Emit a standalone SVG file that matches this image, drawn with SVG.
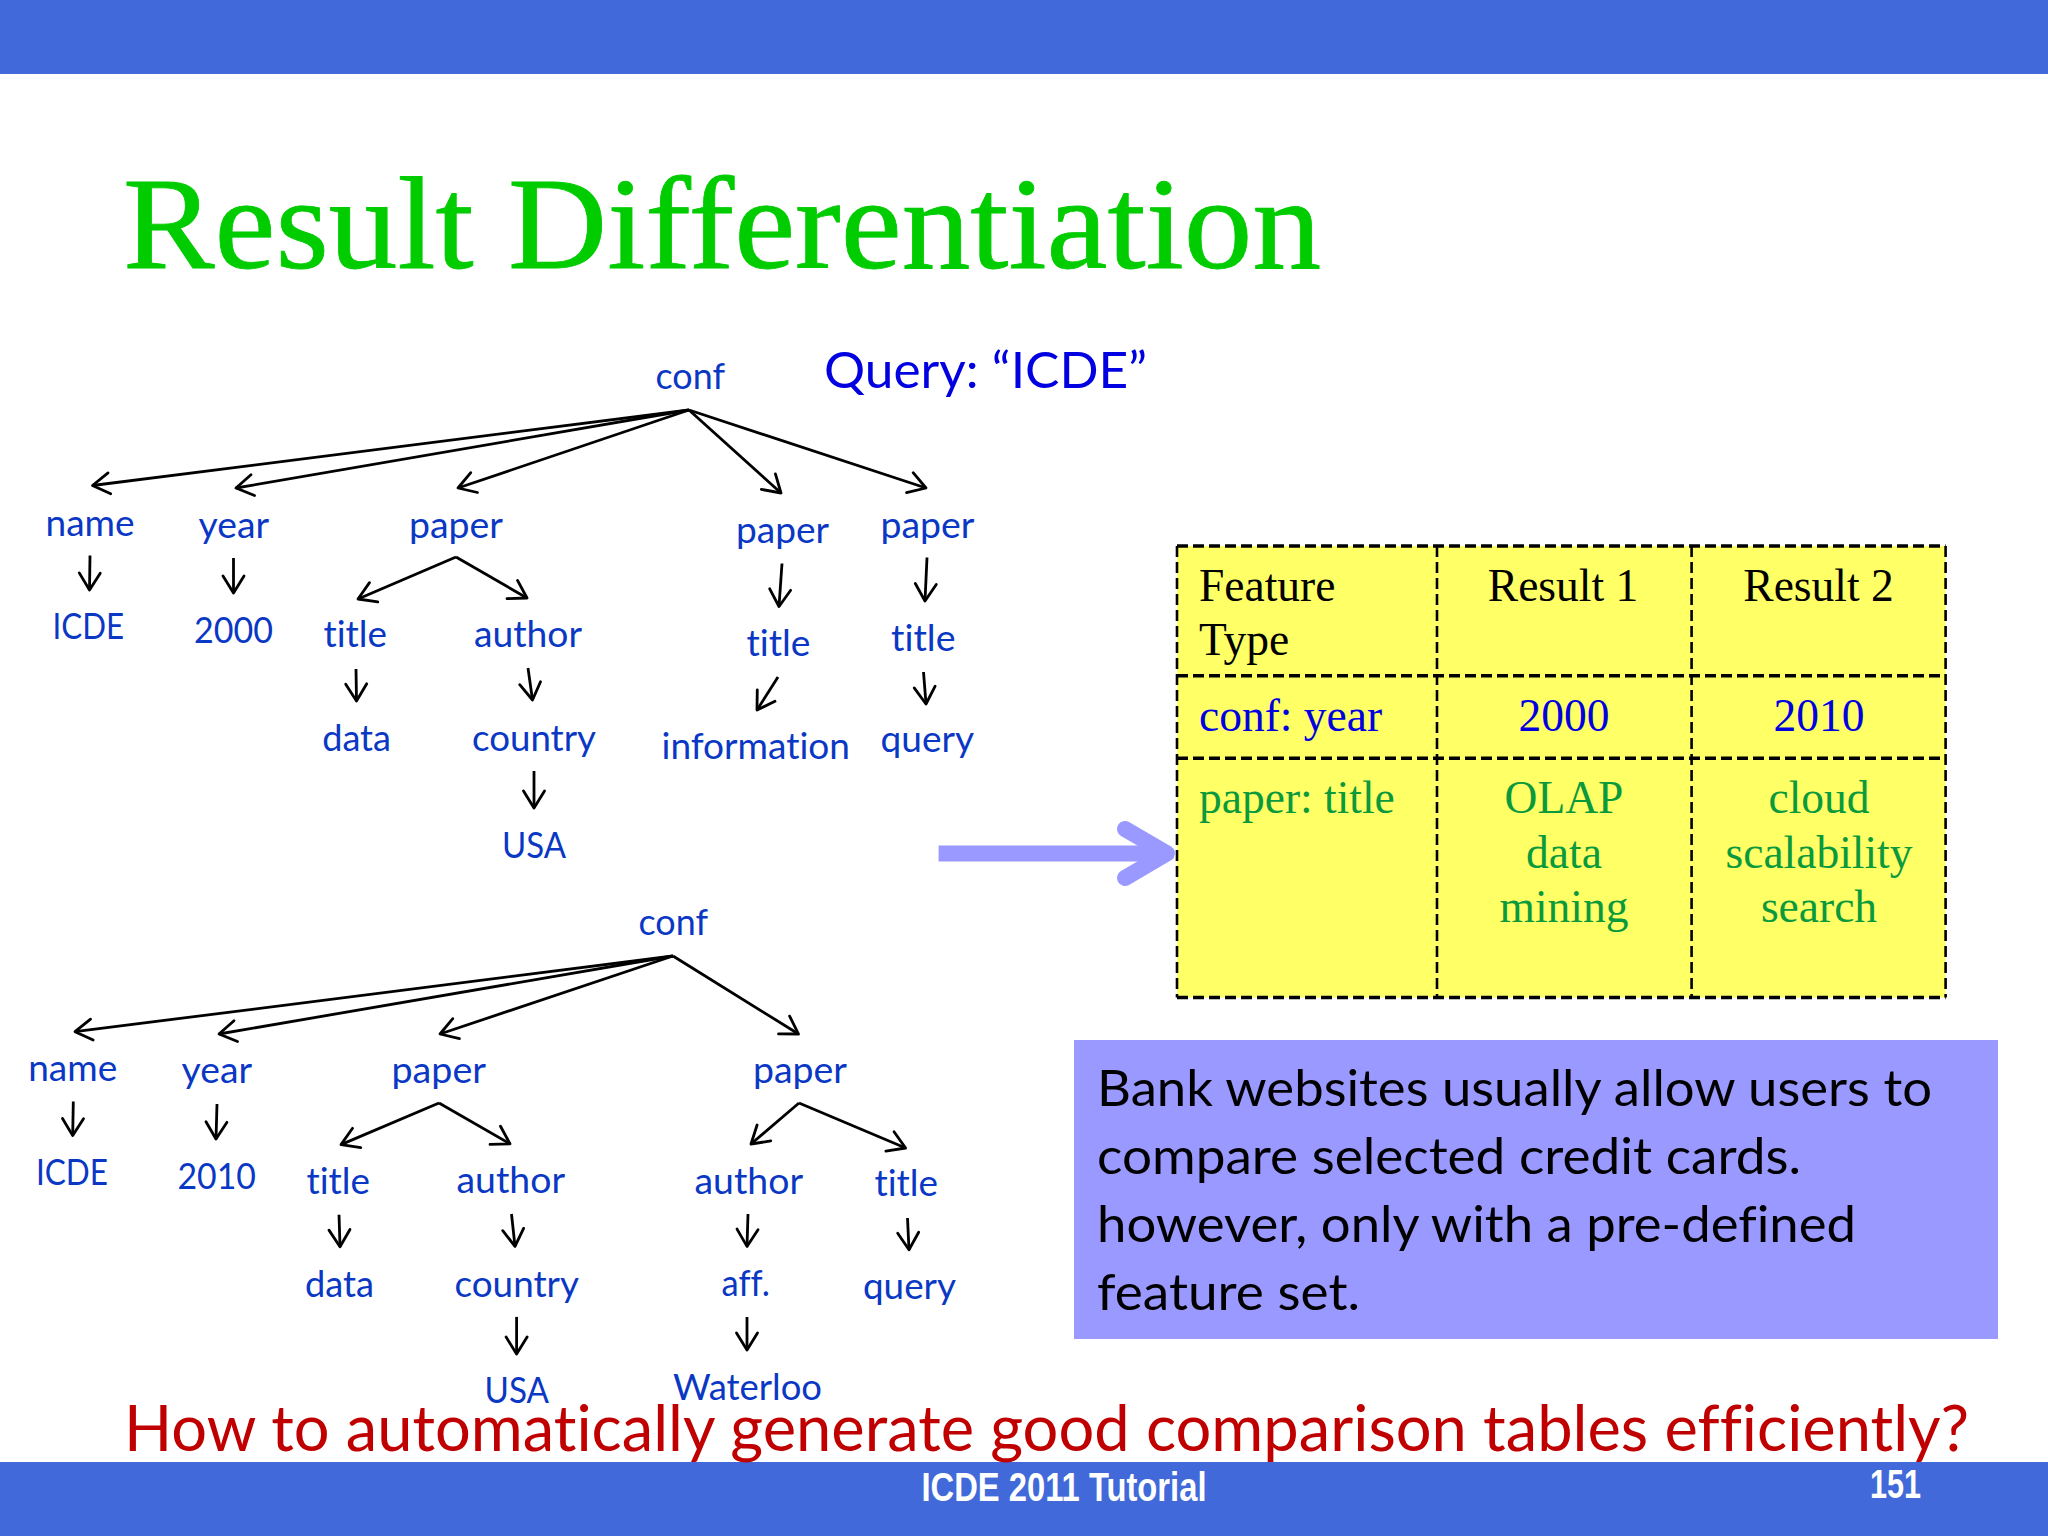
<svg xmlns="http://www.w3.org/2000/svg" width="2048" height="1536" viewBox="0 0 2048 1536">
<style>
text{font-variant-ligatures:none}
.bar{fill:#4169d9}
.l{font-family:Lato,"Open Sans",sans-serif;font-size:37px;fill:#0a38c4}
.c{fill:none;stroke:#000;stroke-width:2.8;marker-end:url(#v)}
.t{font-family:"Liberation Serif",serif;font-size:45.5px}
.k{fill:#000}.b{fill:#0000e0}.g{fill:#0a9a3c}
.m{text-anchor:middle}
.d{stroke:#000;stroke-dasharray:11 5;fill:none}
.p{font-family:Lato,"Open Sans",sans-serif;font-size:51px;fill:#000}
</style>
<defs>
<marker id="v" markerUnits="userSpaceOnUse" markerWidth="24" markerHeight="28" refX="20" refY="14" orient="auto" overflow="visible">
<path d="M3,3.5 L20,14 L3,24.5" fill="none" stroke="#000" stroke-width="2.8" stroke-linejoin="round" stroke-linecap="round"/>
</marker>
</defs>
<rect width="2048" height="1536" fill="#fff"/>
<rect class="bar" width="2048" height="74"/>
<text id="title" x="123" y="268" font-family="'Liberation Serif',serif" font-size="132" fill="#00cc00" stroke="#00cc00" stroke-width="0.8" textLength="1198" lengthAdjust="spacingAndGlyphs">Result Differentiation</text>
<text id="query" x="824" y="388" font-family="Lato,'Open Sans',sans-serif" font-size="51" fill="#0000e0" textLength="323" lengthAdjust="spacingAndGlyphs">Query: “ICDE”</text>

<g id="connectors">
<path class="c" d="M689,410L92.5,485.5"/>
<path class="c" d="M689,410L236,488"/>
<path class="c" d="M689,410L458,488"/>
<path class="c" d="M689,410L781,493"/>
<path class="c" d="M689,410L926,488"/>
<path class="c" d="M90,555.5L89.5,590"/>
<path class="c" d="M233.5,558L233.5,593"/>
<path class="c" d="M456,557L358,599"/>
<path class="c" d="M456,557L527,598"/>
<path class="c" d="M356,669L356.5,701"/>
<path class="c" d="M528,668L532.5,700"/>
<path class="c" d="M534,771L534,808"/>
<path class="c" d="M782,563.5L779,606.5"/>
<path class="c" d="M778,677L757,710"/>
<path class="c" d="M927,557.5L925,601"/>
<path class="c" d="M923.5,672L926,704"/>
<path class="c" d="M673,956L75,1031.7"/>
<path class="c" d="M673,956L219,1034"/>
<path class="c" d="M673,956L440,1034"/>
<path class="c" d="M673,956L798.5,1034"/>
<path class="c" d="M73.3,1101.4L72.7,1135.6"/>
<path class="c" d="M217,1104L216,1139"/>
<path class="c" d="M439,1103L341,1144.6"/>
<path class="c" d="M439,1103L510,1143.8"/>
<path class="c" d="M339,1214.7L340,1246.8"/>
<path class="c" d="M511.5,1214L515,1246.4"/>
<path class="c" d="M516.6,1316.9L516.6,1354"/>
<path class="c" d="M799,1103L751,1144"/>
<path class="c" d="M799,1103L905.6,1148"/>
<path class="c" d="M748,1214L747,1246.4"/>
<path class="c" d="M747,1317L747,1350"/>
<path class="c" d="M907.5,1218L909,1249.7"/>
</g>

<g id="tree1">
<g id="n1-conf"><text class="l" x="655.5" y="389" textLength="69.5" lengthAdjust="spacingAndGlyphs">conf</text></g>
<g id="n1-name"><text class="l" x="45.5" y="535.5" textLength="89" lengthAdjust="spacingAndGlyphs">name</text></g>
<g id="n1-year"><text class="l" x="198.5" y="538" textLength="70.5" lengthAdjust="spacingAndGlyphs">year</text></g>
<g id="n1-paper1"><text class="l" x="409" y="538" textLength="94" lengthAdjust="spacingAndGlyphs">paper</text></g>
<g id="n1-paper2"><text class="l" x="736" y="543" textLength="93" lengthAdjust="spacingAndGlyphs">paper</text></g>
<g id="n1-paper3"><text class="l" x="880.5" y="538" textLength="94" lengthAdjust="spacingAndGlyphs">paper</text></g>
<g id="n1-icde"><text class="l" x="52.5" y="639" textLength="71.5" lengthAdjust="spacingAndGlyphs">ICDE</text></g>
<g id="n1-2000"><text class="l" x="194" y="642.7" textLength="79" lengthAdjust="spacingAndGlyphs">2000</text></g>
<g id="n1-title1"><text class="l" x="323.5" y="647" textLength="63.5" lengthAdjust="spacingAndGlyphs">title</text></g>
<g id="n1-author"><text class="l" x="474" y="647" textLength="108" lengthAdjust="spacingAndGlyphs">author</text></g>
<g id="n1-title2"><text class="l" x="746.5" y="656" textLength="64" lengthAdjust="spacingAndGlyphs">title</text></g>
<g id="n1-title3"><text class="l" x="891" y="650.7" textLength="64.5" lengthAdjust="spacingAndGlyphs">title</text></g>
<g id="n1-data"><text class="l" x="322.2" y="750.5" textLength="68.8" lengthAdjust="spacingAndGlyphs">data</text></g>
<g id="n1-country"><text class="l" x="472" y="750.5" textLength="124" lengthAdjust="spacingAndGlyphs">country</text></g>
<g id="n1-information"><text class="l" x="661.5" y="758.5" textLength="188.5" lengthAdjust="spacingAndGlyphs">information</text></g>
<g id="n1-query"><text class="l" x="880.5" y="752" textLength="93.5" lengthAdjust="spacingAndGlyphs">query</text></g>
<g id="n1-usa"><text class="l" x="502" y="857.5" textLength="64" lengthAdjust="spacingAndGlyphs">USA</text></g>
</g>

<g id="tree2">
<g id="n2-conf"><text class="l" x="638.5" y="935" textLength="69.5" lengthAdjust="spacingAndGlyphs">conf</text></g>
<g id="n2-name"><text class="l" x="28.2" y="1080.5" textLength="89" lengthAdjust="spacingAndGlyphs">name</text></g>
<g id="n2-year"><text class="l" x="181.5" y="1083.4" textLength="70.5" lengthAdjust="spacingAndGlyphs">year</text></g>
<g id="n2-paper1"><text class="l" x="391.5" y="1083.4" textLength="94.5" lengthAdjust="spacingAndGlyphs">paper</text></g>
<g id="n2-paper2"><text class="l" x="753" y="1083.4" textLength="94" lengthAdjust="spacingAndGlyphs">paper</text></g>
<g id="n2-icde"><text class="l" x="36" y="1184.8" textLength="72" lengthAdjust="spacingAndGlyphs">ICDE</text></g>
<g id="n2-2010"><text class="l" x="177.5" y="1188.5" textLength="78.5" lengthAdjust="spacingAndGlyphs">2010</text></g>
<g id="n2-title1"><text class="l" x="306.5" y="1193.8" textLength="63.5" lengthAdjust="spacingAndGlyphs">title</text></g>
<g id="n2-author1"><text class="l" x="456.5" y="1193" textLength="108.5" lengthAdjust="spacingAndGlyphs">author</text></g>
<g id="n2-author2"><text class="l" x="694.5" y="1193.8" textLength="108.5" lengthAdjust="spacingAndGlyphs">author</text></g>
<g id="n2-title2"><text class="l" x="874.5" y="1196" textLength="63.5" lengthAdjust="spacingAndGlyphs">title</text></g>
<g id="n2-data"><text class="l" x="305" y="1296.5" textLength="69" lengthAdjust="spacingAndGlyphs">data</text></g>
<g id="n2-country"><text class="l" x="454.5" y="1296.5" textLength="124.5" lengthAdjust="spacingAndGlyphs">country</text></g>
<g id="n2-aff"><text class="l" x="721.5" y="1295.6" textLength="48.5" lengthAdjust="spacingAndGlyphs">aff.</text></g>
<g id="n2-query"><text class="l" x="863" y="1299" textLength="93" lengthAdjust="spacingAndGlyphs">query</text></g>
<g id="n2-usa"><text class="l" x="484.5" y="1403" textLength="64.5" lengthAdjust="spacingAndGlyphs">USA</text></g>
<g id="n2-waterloo"><text class="l" x="673" y="1400" textLength="149" lengthAdjust="spacingAndGlyphs">Waterloo</text></g>
</g>

<g id="big-arrow">
<rect x="938.6" y="845.5" width="230" height="16" fill="#9999ff"/>
<path d="M1125,829L1167,853.4L1125,878" fill="none" stroke="#9999ff" stroke-width="16" stroke-linecap="round" stroke-linejoin="round"/>
</g>

<g id="table">
<rect x="1177" y="546" width="768.6" height="451.5" fill="#ffff66"/>
<path class="d" stroke-width="3.4" d="M1177,546H1945.6M1177,675.7H1945.6M1177,758.3H1945.6M1177,997.5H1945.6"/>
<path class="d" stroke-width="2.6" d="M1177,546V997.5M1437,546V997.5M1691.6,546V997.5M1945.6,546V997.5"/>
<text class="t k" x="1199" y="600.8">Feature</text>
<text class="t k" x="1199" y="655.3">Type</text>
<text class="t k m" x="1563" y="600.8">Result 1</text>
<text class="t k m" x="1818.5" y="600.8">Result 2</text>
<text class="t b" x="1199" y="730.5">conf: year</text>
<text class="t b m" x="1564" y="730.5">2000</text>
<text class="t b m" x="1819" y="730.5">2010</text>
<text class="t g" x="1199" y="812.5">paper: title</text>
<text class="t g m" x="1564" y="812.5">OLAP</text>
<text class="t g m" x="1564" y="867.5">data</text>
<text class="t g m" x="1564" y="921.5">mining</text>
<text class="t g m" x="1819" y="812.5">cloud</text>
<text class="t g m" x="1819" y="867.5">scalability</text>
<text class="t g m" x="1819" y="921.5">search</text>
</g>

<g id="note">
<rect x="1074" y="1040" width="924" height="299" fill="#9999ff"/>
<text class="p" x="1097" y="1105.5" textLength="835" lengthAdjust="spacingAndGlyphs">Bank websites usually allow users to</text>
<text class="p" x="1097" y="1173.5" textLength="704" lengthAdjust="spacingAndGlyphs">compare selected credit cards.</text>
<text class="p" x="1097" y="1241.5" textLength="759" lengthAdjust="spacingAndGlyphs">however, only with a pre-defined</text>
<text class="p" x="1097" y="1309.5" textLength="263" lengthAdjust="spacingAndGlyphs">feature set.</text>
</g>

<rect class="bar" y="1462" width="2048" height="74"/>
<text id="question" x="124" y="1451" font-family="Lato,'Open Sans',sans-serif" font-size="64" fill="#c00000" textLength="1845" lengthAdjust="spacingAndGlyphs">How to automatically generate good comparison tables efficiently?</text>
<text id="footer" x="921.5" y="1500.5" font-family="'Liberation Sans',sans-serif" font-weight="700" font-size="40" fill="#fff" textLength="285" lengthAdjust="spacingAndGlyphs">ICDE 2011 Tutorial</text>
<text id="page" x="1870" y="1497.5" font-family="'Liberation Sans',sans-serif" font-weight="700" font-size="40" fill="#fff" textLength="51" lengthAdjust="spacingAndGlyphs">151</text>
</svg>
